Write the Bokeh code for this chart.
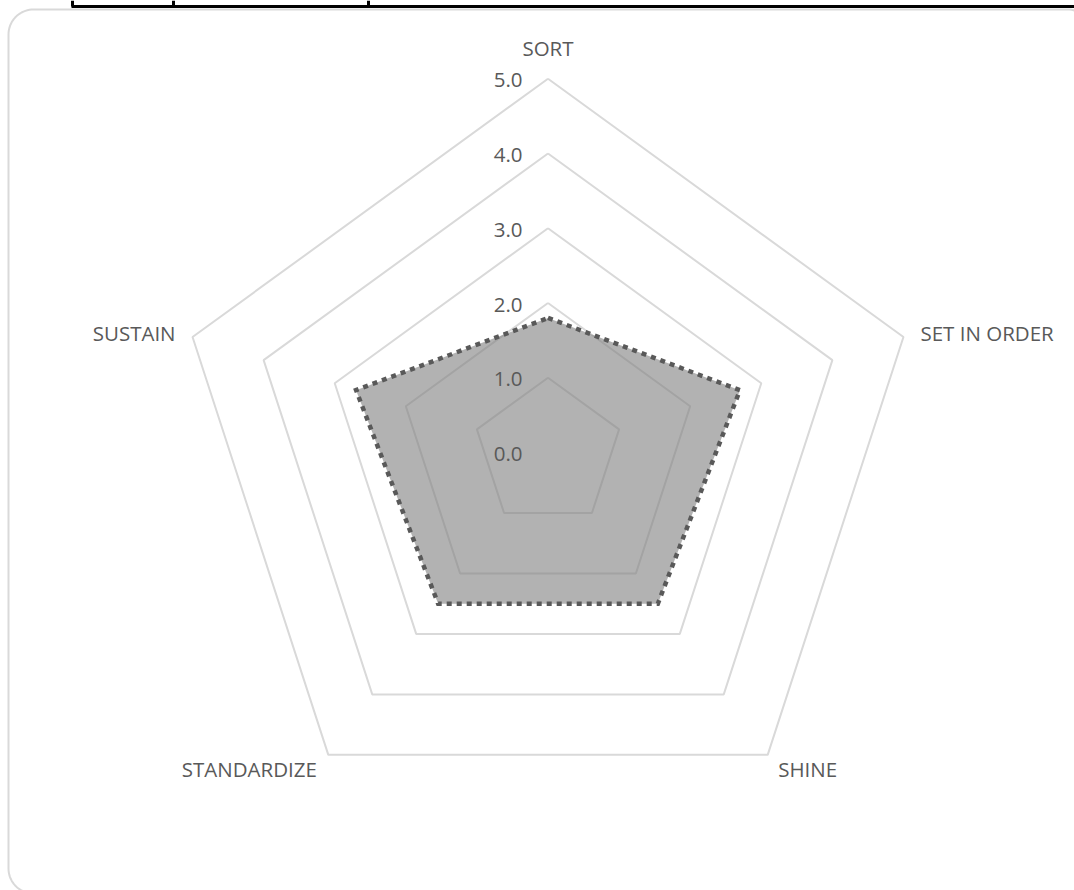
import numpy as np
from bokeh.plotting import figure
from bokeh.models import Range1d
from bokeh.core.properties import value
from bokeh.embed import file_html
from bokeh.resources import INLINE

# --- data ---------------------------------------------------------------
categories = ["SORT", "SET IN ORDER", "SHINE", "STANDARDIZE", "SUSTAIN"]
scores = [1.8, 2.7, 2.5, 2.5, 2.7]
ring_levels = [0.0, 1.0, 2.0, 3.0, 4.0, 5.0]
ring_labels = ["0.0", "1.0", "2.0", "3.0", "4.0", "5.0"]

# --- layout -------------------------------------------------------------
W, H = 1074, 890
CX, CY = 547.5, 452.0      # centre of the radar, in page pixels
K = 74.75                   # pixels per score unit
R_MAX = 5.0

TEXT = "#595959"
GRID = "#d9d9d9"
FONT = value("Open Sans")
FONT_SIZE = "20.5px"

# spokes run clockwise starting at the top
angles = np.pi / 2 - np.arange(len(categories)) * 2 * np.pi / len(categories)


def px(x, y):
    """Page pixel position -> data coordinates."""
    return (x - CX) / K, (CY - y) / K


x0, y1 = px(0, 0)
x1, y0 = px(W, H)

p = figure(width=W, height=H, x_range=Range1d(x0, x1), y_range=Range1d(y0, y1),
           output_backend="svg", toolbar_location=None, min_border=0,
           background_fill_color="white", border_fill_color="white")
p.axis.visible = False
p.grid.visible = False
p.outline_line_color = None

# header rule of the sheet above the chart
hx, hy = px(np.array([71, W]), np.array([6, 6]))
p.line(hx, hy, line_color="black", line_width=3)
for vx in [72, 173, 368]:
    vxs, vys = px(np.array([vx, vx]), np.array([0, 6]))
    p.line(vxs, vys, line_color="black", line_width=3)

# rounded chart frame
left, top, right, bottom, rad = 8, 9, 1092, 893, 25
t = np.linspace(0, np.pi / 2, 20)
fx, fy = [], []
for (cx, cy, a0) in [(right - rad, top + rad, 0.0), (left + rad, top + rad, np.pi / 2),
                     (left + rad, bottom - rad, np.pi), (right - rad, bottom - rad, 1.5 * np.pi)]:
    a = a0 + t
    fx.extend(cx + rad * np.cos(a))
    fy.extend(cy - rad * np.sin(a))
fx.append(fx[0]); fy.append(fy[0])
fxs, fys = px(np.array(fx), np.array(fy))
p.line(fxs, fys, line_color=GRID, line_width=2)

# concentric pentagon grid
ring_xs, ring_ys = [], []
for lvl in ring_levels[1:]:
    ring_xs.append(list(lvl * np.cos(np.append(angles, angles[0]))))
    ring_ys.append(list(lvl * np.sin(np.append(angles, angles[0]))))
p.multi_line(ring_xs, ring_ys, line_color=GRID, line_width=2)

# score polygon
sx = np.array(scores) * np.cos(angles)
sy = np.array(scores) * np.sin(angles)
p.patch(list(sx), list(sy), fill_color="#7f7f7f", fill_alpha=0.6, line_color=None)
p.line(list(np.append(sx, sx[0])), list(np.append(sy, sy[0])),
       line_color="#595959", line_width=4.5, line_dash="5 5", line_join="miter")

# ring value labels beside the top spoke
p.text(x=[(522 - CX) / K] * len(ring_levels),
       y=[lvl - 1.5 / K for lvl in ring_levels],
       text=ring_labels, text_align="right", text_baseline="middle",
       text_font=FONT, text_font_size=FONT_SIZE, text_color=TEXT)

# category labels, offset (in pixels) from the outer vertex
label_offsets = [(0, 31, "center"), (17, 4, "left"), (40, -14, "center"),
                 (-79, -14, "center"), (-17, 4, "right")]
vx = R_MAX * np.cos(angles)
vy = R_MAX * np.sin(angles)
for cat, x, y, (dx, dy, align) in zip(categories, vx, vy, label_offsets):
    p.text(x=[x + dx / K], y=[y + dy / K], text=[cat], text_align=align,
           text_baseline="middle", text_font=FONT, text_font_size=FONT_SIZE,
           text_color=TEXT)

open("out.html", "w").write(file_html(p, INLINE))
